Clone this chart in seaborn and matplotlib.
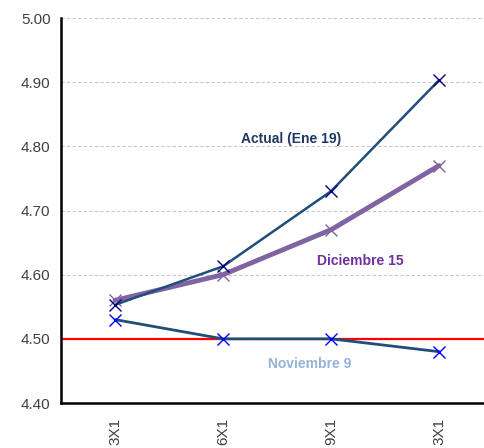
import matplotlib
matplotlib.use("Agg")
import matplotlib.pyplot as plt
import numpy as np
import pandas as pd
import seaborn as sns

plazos = ["3X1", "6X1", "9X1", "3X1"]
actual = [4.553, 4.613, 4.73, 4.903]
diciembre = [4.56, 4.60, 4.67, 4.77]
noviembre = [4.53, 4.50, 4.50, 4.48]
y_ticks = [4.40, 4.50, 4.60, 4.70, 4.80, 4.90, 5.00]

sns.set_style("white")
plt.rcParams["font.family"] = ["Liberation Sans", "DejaVu Sans"]

pos = np.arange(len(plazos))
df = pd.DataFrame({"pos": pos, "actual": actual, "dic": diciembre, "nov": noviembre})

fig = plt.figure(figsize=(4.85, 4.48), dpi=100)
ax = fig.add_axes([61 / 485, 45 / 448, 432 / 485, 385 / 448])

for v in y_ticks[1:]:
    ax.axhline(v, color="#c8c8c8", lw=0.8, ls=(0, (3, 2)), zorder=0)
ax.axhline(4.50, color="#ff0000", lw=1.6, zorder=1)

sns.lineplot(data=df, x="pos", y="nov", ax=ax, color="#1f4e79", lw=2,
             marker="x", markersize=9, markeredgecolor="#0000ff", markeredgewidth=1.0, zorder=3)
sns.lineplot(data=df, x="pos", y="dic", ax=ax, color="#8064a2", lw=3.5,
             marker="x", markersize=9, markeredgecolor="#8064a2", markeredgewidth=1.0, zorder=4)
sns.lineplot(data=df, x="pos", y="actual", ax=ax, color="#1f4e79", lw=1.8,
             marker="x", markersize=9, markeredgecolor="#000080", markeredgewidth=1.0, zorder=5)

ax.text(1.63, 4.812, "Actual (Ene 19)", color="#1f3864", fontsize=10, fontweight="bold",
        ha="center", va="center")
ax.text(2.27, 4.622, "Diciembre 15", color="#7030a0", fontsize=10, fontweight="bold",
        ha="center", va="center")
ax.text(1.8, 4.461, "Noviembre 9", color="#95b3d7", fontsize=10, fontweight="bold",
        ha="center", va="center")

ax.set_xlim(-0.5, 3.5)
ax.set_ylim(4.40, 5.00)
ax.set_yticks(y_ticks)
ax.set_yticklabels([f"{v:.2f}" for v in y_ticks], color="#404040", fontsize=11)
ax.set_xticks(np.arange(-0.5, 3.6, 1.0))
ax.set_xticklabels([])
ax.set_xticks(pos, minor=True)
ax.set_xticklabels(plazos, minor=True, rotation=90, color="#404040", fontsize=11)
ax.tick_params(axis="x", which="minor", length=0, pad=11)
ax.tick_params(axis="both", which="major", direction="out", length=4, width=1.2, color="black")
ax.tick_params(axis="x", which="major", direction="in", length=5)
ax.set_xlabel("")
ax.set_ylabel("")

for s in ["top", "right"]:
    ax.spines[s].set_visible(False)
for s in ["left", "bottom"]:
    ax.spines[s].set_color("black")
    ax.spines[s].set_linewidth(1.8)

fig.savefig("out.png", dpi=100)
